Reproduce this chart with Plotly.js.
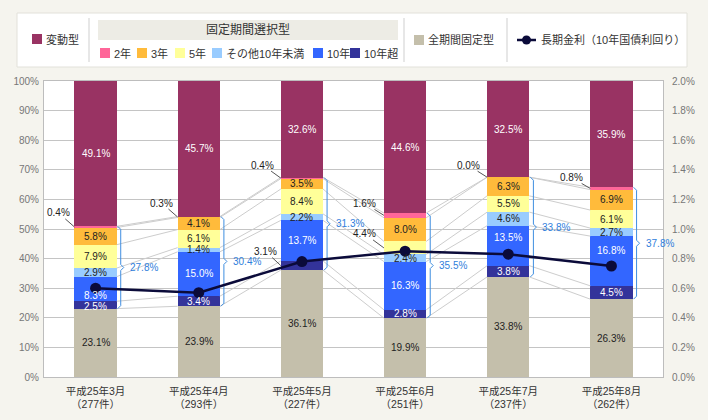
<!DOCTYPE html>
<html>
<head>
<meta charset="utf-8">
<script src="https://cdn.plot.ly/plotly-3.0.1.min.js"></script>
<style>
  html, body { margin: 0; padding: 0; background: #f5f4ee; }
  #chart { width: 708px; height: 420px; }
</style>
</head>
<body>
<div id="chart"></div>
<script>
// ---- data ----
const months = ['平成25年3月', '平成25年4月', '平成25年5月', '平成25年6月', '平成25年7月', '平成25年8月'];
const counts = [277, 293, 227, 251, 237, 262];

const hendo   = [49.1, 45.7, 32.6, 44.6, 32.5, 35.9]; // 変動型
const fix2    = [0.4, 0.3, 0.4, 1.6, 0.0, 0.8];       // 2年
const fix3    = [5.8, 4.1, 3.5, 8.0, 6.3, 6.9];       // 3年
const fix5    = [7.9, 6.1, 8.4, 4.4, 5.5, 6.1];       // 5年
const fixOther= [2.9, 1.4, 2.2, 2.4, 4.6, 2.7];       // その他10年未満
const fix10   = [8.3, 15.0, 13.7, 16.3, 13.5, 16.8];  // 10年
const fix10p  = [2.5, 3.4, 3.1, 2.8, 3.8, 4.5];       // 10年超
const zenki   = [23.1, 23.9, 36.1, 19.9, 33.8, 26.3]; // 全期間固定型
const fixedTotal = [27.8, 30.4, 31.3, 35.5, 33.8, 37.8]; // 固定期間選択型 計
const jgb10   = [0.60, 0.57, 0.78, 0.85, 0.83, 0.75]; // 長期金利（10年国債利回り）

const tickText = months.map((m, i) => m + '<br>（' + counts[i] + '件）');

// ---- styles ----
const FONT = 'Liberation Sans, Arial, "Noto Sans CJK JP", sans-serif';
const PL = 44, PR = 663, PT = 81, PB = 377;          // plot box in px
const UNIT = (PR - PL) / 6;                           // px per category
const YPX = (PB - PT) / 100;                          // px per 1%
const BARW = 0.41;
const LBL = 10;                                       // segment label size
const px = v => (v - PL) / (PR - PL);
const py = v => (PB - v) / (PB - PT);

// stacking order, bottom to top
const series = [
  { name: '全期間固定型',   vals: zenki,    color: '#c4bfab', txt: '#222' },
  { name: '10年超',         vals: fix10p,   color: '#33339a', txt: '#fff' },
  { name: '10年',           vals: fix10,    color: '#3366ff', txt: '#fff' },
  { name: 'その他10年未満', vals: fixOther, color: '#99ccff', txt: '#222' },
  { name: '5年',            vals: fix5,     color: '#ffff99', txt: '#222' },
  { name: '3年',            vals: fix3,     color: '#ffbb3b', txt: '#222' },
  { name: '2年',            vals: fix2,     color: '#ff6699', txt: '#222' },
  { name: '変動型',         vals: hendo,    color: '#993363', txt: '#fff' }
];

// label placement tweaks (series index-month index)
const outside = {
  '6-0': [-16, -14], '6-1': [-16, -14], '6-2': [-18, -13], '6-3': [-19, -12],
  '6-4': [-19, -12], '6-5': [-19, -11], '1-2': [-15, -14], '4-3': [-19, -14]
};
const yshift = { '2-0': -7, '1-0': -2, '2-4': 8, '2-5': 10 };

const xs = months.map((_, i) => i);

// cumulative boundaries
const cum = [];
let run = xs.map(() => 0);
series.forEach(s => {
  const lo = run.slice();
  run = run.map((v, i) => v + s.vals[i]);
  cum.push({ lo: lo, hi: run.slice() });
});

const traces = [];

// connector lines between neighbouring bars
const cx = [], cy = [];
for (let k = 0; k < series.length - 1; k++) {
  for (let i = 0; i < xs.length - 1; i++) {
    cx.push(i + BARW / 2, i + 1 - BARW / 2, null);
    cy.push(cum[k].hi[i], cum[k].hi[i + 1], null);
  }
}
traces.push({
  type: 'scatter', mode: 'lines', x: cx, y: cy,
  line: { color: '#cdcdcd', width: 1 }, hoverinfo: 'skip', showlegend: false
});

series.forEach(s => {
  traces.push({
    type: 'bar', name: s.name, x: xs, y: s.vals, width: BARW,
    marker: { color: s.color, line: { width: 0 } },
    hoverinfo: 'skip', showlegend: false
  });
});

// braces for the 固定期間選択型 total
const bx = [], byv = [];
const dx = 3 / UNIT, dy = 3 / YPX;
xs.forEach(i => {
  const xe = i + BARW / 2 + 4 / UNIT;
  const top = cum[6].hi[i], bot = cum[0].hi[i];
  const mid = (top + bot) / 2;
  bx.push(xe - dx, xe, xe, xe + dx, xe, xe, xe - dx, null);
  byv.push(top, top - dy, mid + dy, mid, mid - dy, bot + dy, bot, null);
});
traces.push({
  type: 'scatter', mode: 'lines', x: bx, y: byv,
  line: { color: '#3f8ee0', width: 1 }, hoverinfo: 'skip', showlegend: false
});

// long-term rate
traces.push({
  type: 'scatter', mode: 'lines+markers', x: xs, y: jgb10, yaxis: 'y2',
  name: '長期金利（10年国債利回り）',
  line: { color: '#0b0b3a', width: 2.5 },
  marker: { color: '#0b0b3a', size: 11 },
  hoverinfo: 'skip', showlegend: false
});

// ---- annotations ----
const ann = [];
series.forEach((s, k) => {
  xs.forEach(i => {
    const key = k + '-' + i;
    const v = s.vals[i];
    const mid = (cum[k].lo[i] + cum[k].hi[i]) / 2;
    const text = v.toFixed(1) + '%';
    if (outside[key]) {
      ann.push({
        x: i - BARW / 2, y: mid, xref: 'x', yref: 'y', text: text,
        showarrow: true, arrowhead: 0, arrowwidth: 1, arrowcolor: '#555',
        ax: outside[key][0], ay: outside[key][1], standoff: 0, borderpad: 0,
        font: { family: FONT, size: LBL, color: '#222' }
      });
    } else {
      ann.push({
        x: i, y: mid, xref: 'x', yref: 'y', text: text, showarrow: false,
        yshift: yshift[key] || 0, borderpad: 0,
        font: { family: FONT, size: LBL, color: s.txt }
      });
    }
  });
});
xs.forEach(i => {
  ann.push({
    x: i + BARW / 2 + 12 / UNIT, y: (cum[6].hi[i] + cum[0].hi[i]) / 2,
    xref: 'x', yref: 'y', xanchor: 'left', yanchor: 'middle',
    text: fixedTotal[i].toFixed(1) + '%', borderpad: 0,
    showarrow: false, font: { family: FONT, size: LBL, color: '#2f80dc' }
  });
});

// ---- legend panel ----
const shapes = [];
shapes.push({ type: 'rect', xref: 'paper', yref: 'paper', layer: 'above',
  x0: px(17), x1: px(687), y0: py(67), y1: py(13),
  fillcolor: '#ffffff', line: { color: '#e2e1da', width: 1 } });
shapes.push({ type: 'rect', xref: 'paper', yref: 'paper', layer: 'above',
  x0: px(98), x1: px(398), y0: py(40), y1: py(20),
  fillcolor: '#edece5', line: { width: 0 } });
[89, 404, 507].forEach(v => shapes.push({ type: 'line', xref: 'paper', yref: 'paper', layer: 'above',
  x0: px(v), x1: px(v), y0: py(62), y1: py(18), line: { color: '#cfcfcf', width: 1 } }));

function legendItem(x, y, color, label) {
  shapes.push({ type: 'rect', xref: 'paper', yref: 'paper', layer: 'above',
    x0: px(x), x1: px(x + 10), y0: py(y + 5), y1: py(y - 5),
    fillcolor: color, line: { width: 0 } });
  ann.push({ xref: 'paper', yref: 'paper', x: px(x + 13), y: py(y),
    xanchor: 'left', yanchor: 'middle', borderpad: 0,
    text: label, showarrow: false, font: { family: FONT, size: 11, color: '#333' } });
}
legendItem(32, 39, series[7].color, series[7].name);
legendItem(100, 53, series[6].color, series[6].name);
legendItem(137, 53, series[5].color, series[5].name);
legendItem(175, 53, series[4].color, series[4].name);
legendItem(212, 53, series[3].color, series[3].name);
legendItem(313, 53, series[2].color, series[2].name);
legendItem(350, 53, series[1].color, series[1].name);
legendItem(414, 40, series[0].color, series[0].name);
ann.push({ xref: 'paper', yref: 'paper', x: px(248), y: py(30),
  xanchor: 'center', yanchor: 'middle', text: '固定期間選択型',
  showarrow: false, font: { family: FONT, size: 12, color: '#333' } });

shapes.push({ type: 'line', xref: 'paper', yref: 'paper', layer: 'above',
  x0: px(517), x1: px(536), y0: py(40), y1: py(40), line: { color: '#0b0b3a', width: 2.5 } });
shapes.push({ type: 'circle', xref: 'paper', yref: 'paper', layer: 'above',
  x0: px(522), x1: px(531), y0: py(44.5), y1: py(35.5),
  fillcolor: '#0b0b3a', line: { width: 0 } });
ann.push({ xref: 'paper', yref: 'paper', x: px(540), y: py(40),
  xanchor: 'left', yanchor: 'middle', borderpad: 0,
  text: '長期金利（10年国債利回り）', showarrow: false,
  font: { family: FONT, size: 11, color: '#333' } });

const layout = {
  width: 708, height: 420,
  margin: { l: PL, r: 708 - PR, t: PT, b: 420 - PB, pad: 0 },
  paper_bgcolor: '#f5f4ee', plot_bgcolor: '#ffffff',
  barmode: 'stack', showlegend: false, hovermode: false,
  font: { family: FONT, size: 10, color: '#555' },
  xaxis: {
    range: [-0.5, 5.5], tickmode: 'array', tickvals: xs, ticktext: tickText,
    showgrid: false, zeroline: false, ticks: '', ticklabelstandoff: 4,
    showline: true, linecolor: '#bdbdbd', linewidth: 1, mirror: true,
    tickfont: { family: FONT, size: 10.5, color: '#333' }, fixedrange: true
  },
  yaxis: {
    range: [0, 100], dtick: 10, ticksuffix: '%', showgrid: true, gridcolor: '#c4c4c4',
    zeroline: false, showline: true, linecolor: '#bdbdbd', linewidth: 1,
    ticks: '', ticklabelstandoff: 2,
    tickfont: { family: FONT, size: 10, color: '#777' }, fixedrange: true
  },
  yaxis2: {
    overlaying: 'y', side: 'right', range: [0, 2.0], dtick: 0.2,
    tickformat: '.1f', ticksuffix: '%', showgrid: false, zeroline: false,
    showline: true, linecolor: '#bdbdbd', linewidth: 1, ticks: '', ticklabelstandoff: 6,
    tickfont: { family: FONT, size: 10, color: '#777' }, fixedrange: true
  },
  shapes: shapes,
  annotations: ann
};

Plotly.newPlot('chart', traces, layout, { staticPlot: true, displayModeBar: false });
</script>
</body>
</html>
